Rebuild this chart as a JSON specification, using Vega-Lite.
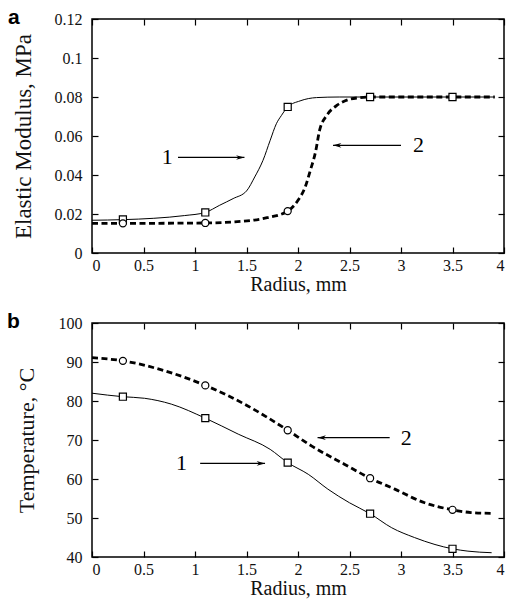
{
  "$schema": "https://vega.github.io/schema/vega-lite/v6.json",
  "padding": {"left": 6, "top": 6, "right": 4, "bottom": 0},
  "background": "white",
  "config": {
    "view": {"stroke": "#000", "strokeWidth": 1.5},
    "axis": {
      "grid": false, "domain": false, "tickColor": "#000", "tickSize": -6, "tickWidth": 1.2,
      "labelFont": "Liberation Serif", "labelFontSize": 16, "labelColor": "#111",
      "titleFont": "Liberation Serif", "titleFontSize": 20, "titleFontWeight": "normal", "titleColor": "#111"
    },
    "title": {"font": "Liberation Sans", "fontSize": 21, "fontWeight": "bold", "color": "#000", "anchor": "start", "frame": "bounds", "baseline": "alphabetic", "offset": -17}
  },
  "datasets": {
    "curveA": [
      {"r": 0, "v": 0.0168, "s": "1"}, {"r": 0.3, "v": 0.0171, "s": "1"}, {"r": 0.6, "v": 0.0178, "s": "1"},
      {"r": 0.9, "v": 0.0192, "s": "1"}, {"r": 1.1, "v": 0.0208, "s": "1"}, {"r": 1.24, "v": 0.0245, "s": "1"},
      {"r": 1.37, "v": 0.0279, "s": "1"}, {"r": 1.5, "v": 0.0318, "s": "1"}, {"r": 1.58, "v": 0.039, "s": "1"},
      {"r": 1.66, "v": 0.0475, "s": "1"}, {"r": 1.73, "v": 0.0578, "s": "1"}, {"r": 1.79, "v": 0.0663, "s": "1"},
      {"r": 1.84, "v": 0.0706, "s": "1"}, {"r": 1.9, "v": 0.0749, "s": "1"}, {"r": 2.02, "v": 0.078, "s": "1"},
      {"r": 2.18, "v": 0.0797, "s": "1"}, {"r": 2.4, "v": 0.08, "s": "1"}, {"r": 3.91, "v": 0.08, "s": "1"},
      {"r": 0, "v": 0.0152, "s": "2"}, {"r": 0.3, "v": 0.0152, "s": "2"}, {"r": 1.1, "v": 0.0154, "s": "2"},
      {"r": 1.37, "v": 0.0159, "s": "2"}, {"r": 1.7, "v": 0.0181, "s": "2"}, {"r": 1.9, "v": 0.0215, "s": "2"},
      {"r": 2.0, "v": 0.027, "s": "2"}, {"r": 2.07, "v": 0.0339, "s": "2"}, {"r": 2.12, "v": 0.0424, "s": "2"},
      {"r": 2.17, "v": 0.0518, "s": "2"}, {"r": 2.21, "v": 0.063, "s": "2"}, {"r": 2.28, "v": 0.0706, "s": "2"},
      {"r": 2.38, "v": 0.0758, "s": "2"}, {"r": 2.49, "v": 0.0787, "s": "2"}, {"r": 2.59, "v": 0.0796, "s": "2"},
      {"r": 2.7, "v": 0.08, "s": "2"}, {"r": 3.91, "v": 0.08, "s": "2"}
    ],
    "markA": [
      {"r": 0.3, "v": 0.0172, "s": "1"}, {"r": 1.1, "v": 0.0208, "s": "1"}, {"r": 1.9, "v": 0.0749, "s": "1"},
      {"r": 2.7, "v": 0.08, "s": "1"}, {"r": 3.5, "v": 0.08, "s": "1"},
      {"r": 0.3, "v": 0.0152, "s": "2"}, {"r": 1.1, "v": 0.0154, "s": "2"}, {"r": 1.9, "v": 0.0215, "s": "2"}
    ],
    "arrowA": [
      {"x1": 0.835, "x2": 1.48, "y": 0.049, "head": 1.48, "dir": "right", "label": "1", "lx": 0.73},
      {"x1": 2.34, "x2": 3.0, "y": 0.0552, "head": 2.34, "dir": "left", "label": "2", "lx": 3.17}
    ],
    "curveB": [
      {"r": 0, "v": 82.0, "s": "1"}, {"r": 0.3, "v": 81.1, "s": "1"}, {"r": 0.51, "v": 80.7, "s": "1"},
      {"r": 0.77, "v": 79.2, "s": "1"}, {"r": 1.1, "v": 75.6, "s": "1"}, {"r": 1.42, "v": 71.5, "s": "1"},
      {"r": 1.73, "v": 67.6, "s": "1"}, {"r": 1.9, "v": 64.2, "s": "1"}, {"r": 2.1, "v": 61.2, "s": "1"},
      {"r": 2.29, "v": 57.4, "s": "1"}, {"r": 2.5, "v": 53.9, "s": "1"}, {"r": 2.7, "v": 51.1, "s": "1"},
      {"r": 2.91, "v": 47.5, "s": "1"}, {"r": 3.13, "v": 45.0, "s": "1"}, {"r": 3.33, "v": 43.2, "s": "1"},
      {"r": 3.5, "v": 42.1, "s": "1"}, {"r": 3.65, "v": 41.5, "s": "1"}, {"r": 3.88, "v": 41.1, "s": "1"},
      {"r": 0, "v": 91.1, "s": "2"}, {"r": 0.3, "v": 90.3, "s": "2"}, {"r": 0.71, "v": 87.7, "s": "2"},
      {"r": 1.1, "v": 84.0, "s": "2"}, {"r": 1.48, "v": 79.2, "s": "2"}, {"r": 1.9, "v": 72.5, "s": "2"},
      {"r": 2.13, "v": 68.5, "s": "2"}, {"r": 2.45, "v": 63.8, "s": "2"}, {"r": 2.7, "v": 60.2, "s": "2"},
      {"r": 2.94, "v": 57.4, "s": "2"}, {"r": 3.23, "v": 53.9, "s": "2"}, {"r": 3.5, "v": 52.1, "s": "2"},
      {"r": 3.68, "v": 51.4, "s": "2"}, {"r": 3.88, "v": 51.2, "s": "2"}
    ],
    "markB": [
      {"r": 0.3, "v": 81.1, "s": "1"}, {"r": 1.1, "v": 75.6, "s": "1"}, {"r": 1.9, "v": 64.2, "s": "1"},
      {"r": 2.7, "v": 51.1, "s": "1"}, {"r": 3.5, "v": 42.1, "s": "1"},
      {"r": 0.3, "v": 90.3, "s": "2"}, {"r": 1.1, "v": 84.0, "s": "2"}, {"r": 1.9, "v": 72.5, "s": "2"},
      {"r": 2.7, "v": 60.2, "s": "2"}, {"r": 3.5, "v": 52.1, "s": "2"}
    ],
    "arrowB": [
      {"x1": 1.05, "x2": 1.68, "y": 64.0, "head": 1.68, "dir": "right", "label": "1", "lx": 0.87},
      {"x1": 2.19, "x2": 2.89, "y": 70.6, "head": 2.19, "dir": "left", "label": "2", "lx": 3.05}
    ]
  },
  "spacing": 15,
  "vconcat": [
    {
      "width": 412, "height": 234,
      "title": {"text": "a", "dx": -4},
      "resolve": {"axis": {"x": "independent", "y": "independent"}, "scale": {"shape": "independent"}},
      "layer": [
        {
          "data": {"name": "curveA"},
          "transform": [{"filter": "datum.s === '1'"}],
          "mark": {"type": "line", "color": "#000", "strokeWidth": 1, "interpolate": "monotone"},
          "encoding": {
            "x": {"field": "r", "type": "quantitative", "scale": {"domain": [0, 4], "nice": false},
                  "axis": {"orient": "bottom", "title": "Radius, mm", "labelExpr": "'' + datum.value", "values": [0, 0.5, 1, 1.5, 2, 2.5, 3, 3.5, 4], "labelPadding": 10, "titlePadding": 1}},
            "y": {"field": "v", "type": "quantitative", "scale": {"domain": [0, 0.12], "nice": false},
                  "axis": {"orient": "left", "title": "Elastic Modulus, MPa", "labelExpr": "'' + datum.value", "values": [0, 0.02, 0.04, 0.06, 0.08, 0.1, 0.12], "labelPadding": 16, "titlePadding": 19, "titleFontSize": 23}}
          }
        },
        {
          "data": {"name": "curveA"},
          "transform": [{"filter": "datum.s === '2'"}],
          "mark": {"type": "line", "color": "#000", "strokeWidth": 2.8, "strokeDash": [6, 3.5], "interpolate": "monotone"},
          "encoding": {
            "x": {"field": "r", "type": "quantitative", "axis": {"orient": "top", "title": null, "labels": false, "minExtent": 0, "maxExtent": 0, "values": [0, 0.5, 1, 1.5, 2, 2.5, 3, 3.5, 4]}},
            "y": {"field": "v", "type": "quantitative", "axis": {"orient": "right", "title": null, "labels": false, "minExtent": 0, "maxExtent": 0, "values": [0, 0.02, 0.04, 0.06, 0.08, 0.1, 0.12]}}
          }
        },
        {
          "data": {"name": "markA"},
          "mark": {"type": "point", "filled": true, "fill": "white", "stroke": "#000", "strokeWidth": 1.2, "size": 50, "opacity": 1},
          "encoding": {
            "x": {"field": "r", "type": "quantitative", "axis": null},
            "y": {"field": "v", "type": "quantitative", "axis": null},
            "shape": {"field": "s", "type": "nominal", "scale": {"domain": ["1", "2"], "range": ["square", "circle"]}, "legend": null}
          }
        },
        {
          "data": {"name": "arrowA"},
          "mark": {"type": "rule", "color": "#000", "strokeWidth": 1.2},
          "encoding": {
            "x": {"field": "x1", "type": "quantitative", "axis": null},
            "x2": {"field": "x2"},
            "y": {"field": "y", "type": "quantitative", "axis": null}
          }
        },
        {
          "data": {"name": "arrowA"},
          "mark": {"type": "point", "filled": true, "color": "#000", "size": 70, "opacity": 1},
          "encoding": {
            "x": {"field": "head", "type": "quantitative", "axis": null},
            "y": {"field": "y", "type": "quantitative", "axis": null},
            "shape": {"field": "dir", "type": "nominal", "scale": {"domain": ["right", "left"], "range": ["M -2 -0.55 L 0 0 L -2 0.55 L -1.4 0 Z", "M 2 -0.55 L 0 0 L 2 0.55 L 1.4 0 Z"]}, "legend": null}
          }
        },
        {
          "data": {"name": "arrowA"},
          "mark": {"type": "text", "font": "Liberation Serif", "fontSize": 22, "color": "#000", "baseline": "middle"},
          "encoding": {
            "x": {"field": "lx", "type": "quantitative", "axis": null},
            "y": {"field": "y", "type": "quantitative", "axis": null},
            "text": {"field": "label"}
          }
        }
      ]
    },
    {
      "width": 412, "height": 234,
      "title": {"text": "b", "dx": -8},
      "resolve": {"axis": {"x": "independent", "y": "independent"}, "scale": {"shape": "independent"}},
      "layer": [
        {
          "data": {"name": "curveB"},
          "transform": [{"filter": "datum.s === '1'"}],
          "mark": {"type": "line", "color": "#000", "strokeWidth": 1, "interpolate": "monotone"},
          "encoding": {
            "x": {"field": "r", "type": "quantitative", "scale": {"domain": [0, 4], "nice": false},
                  "axis": {"orient": "bottom", "title": "Radius, mm", "labelExpr": "'' + datum.value", "values": [0, 0.5, 1, 1.5, 2, 2.5, 3, 3.5, 4], "labelPadding": 10, "titlePadding": 1}},
            "y": {"field": "v", "type": "quantitative", "scale": {"domain": [40, 100], "nice": false},
                  "axis": {"orient": "left", "title": "Temperature, °C", "values": [40, 50, 60, 70, 80, 90, 100], "labelPadding": 16, "titlePadding": 20, "titleFontSize": 22}}
          }
        },
        {
          "data": {"name": "curveB"},
          "transform": [{"filter": "datum.s === '2'"}],
          "mark": {"type": "line", "color": "#000", "strokeWidth": 2.8, "strokeDash": [6, 3.5], "interpolate": "monotone"},
          "encoding": {
            "x": {"field": "r", "type": "quantitative", "axis": {"orient": "top", "title": null, "labels": false, "minExtent": 0, "maxExtent": 0, "values": [0, 0.5, 1, 1.5, 2, 2.5, 3, 3.5, 4]}},
            "y": {"field": "v", "type": "quantitative", "axis": {"orient": "right", "title": null, "labels": false, "minExtent": 0, "maxExtent": 0, "values": [40, 50, 60, 70, 80, 90, 100]}}
          }
        },
        {
          "data": {"name": "markB"},
          "mark": {"type": "point", "filled": true, "fill": "white", "stroke": "#000", "strokeWidth": 1.2, "size": 50, "opacity": 1},
          "encoding": {
            "x": {"field": "r", "type": "quantitative", "axis": null},
            "y": {"field": "v", "type": "quantitative", "axis": null},
            "shape": {"field": "s", "type": "nominal", "scale": {"domain": ["1", "2"], "range": ["square", "circle"]}, "legend": null}
          }
        },
        {
          "data": {"name": "arrowB"},
          "mark": {"type": "rule", "color": "#000", "strokeWidth": 1.2},
          "encoding": {
            "x": {"field": "x1", "type": "quantitative", "axis": null},
            "x2": {"field": "x2"},
            "y": {"field": "y", "type": "quantitative", "axis": null}
          }
        },
        {
          "data": {"name": "arrowB"},
          "mark": {"type": "point", "filled": true, "color": "#000", "size": 70, "opacity": 1},
          "encoding": {
            "x": {"field": "head", "type": "quantitative", "axis": null},
            "y": {"field": "y", "type": "quantitative", "axis": null},
            "shape": {"field": "dir", "type": "nominal", "scale": {"domain": ["right", "left"], "range": ["M -2 -0.55 L 0 0 L -2 0.55 L -1.4 0 Z", "M 2 -0.55 L 0 0 L 2 0.55 L 1.4 0 Z"]}, "legend": null}
          }
        },
        {
          "data": {"name": "arrowB"},
          "mark": {"type": "text", "font": "Liberation Serif", "fontSize": 22, "color": "#000", "baseline": "middle"},
          "encoding": {
            "x": {"field": "lx", "type": "quantitative", "axis": null},
            "y": {"field": "y", "type": "quantitative", "axis": null},
            "text": {"field": "label"}
          }
        }
      ]
    }
  ]
}
